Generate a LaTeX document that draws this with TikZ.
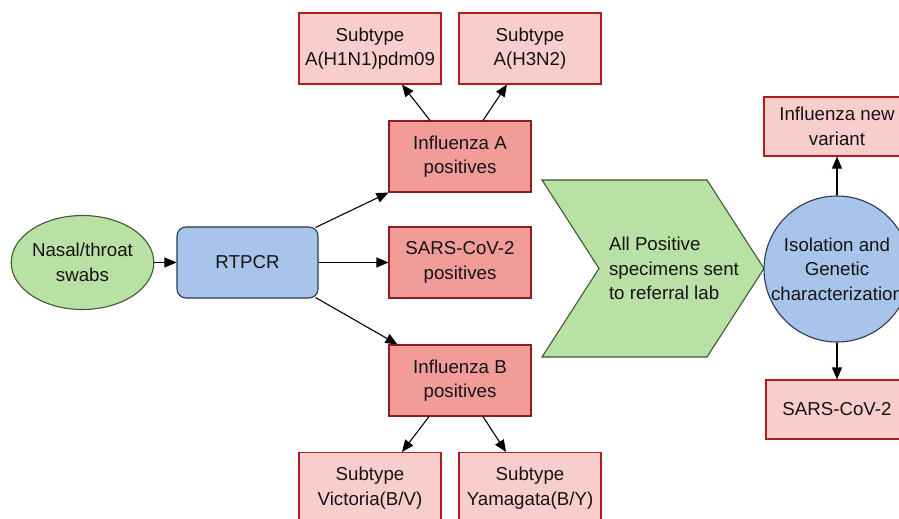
\documentclass[tikz,border=0pt]{standalone}
\usepackage{fontspec}
\setmainfont{Liberation Sans}
\usetikzlibrary{shapes.geometric,arrows.meta}
\definecolor{gfill}{HTML}{B9E0A5}
\definecolor{gline}{HTML}{3E5A30}
\definecolor{bfill}{HTML}{A9C4EB}
\definecolor{bline}{HTML}{2B3A52}
\definecolor{rfill}{HTML}{F19C99}
\definecolor{rline}{HTML}{8E1C1C}
\definecolor{lfill}{HTML}{F8CECC}
\definecolor{lline}{HTML}{B21E1E}
\begin{document}
\begin{tikzpicture}[x=1pt,y=-1pt,
  txt/.style={font=\fontsize{18.7}{24.5}\selectfont,align=center,text=black!92},
  darkbox/.style={txt,draw=rline,fill=rfill,line width=1.1pt,minimum width=142pt,minimum height=71pt,inner sep=0pt},
  lightbox/.style={txt,draw=lline,fill=lfill,line width=1.1pt,minimum width=142pt,minimum height=71pt,inner sep=0pt},
  conn/.style={line width=1.1pt,-{Triangle[length=12pt,width=10pt]}}]
\useasboundingbox (0,0) rectangle (899,519);
\fill[white] (0,0) rectangle (899,519);
\node[txt,ellipse,draw=gline,fill=gfill,line width=1.1pt,minimum width=141pt,minimum height=94pt,inner sep=0pt] (swab) at (82.5,262.5) {Nasal/throat\\swabs};
\node[txt,draw=bline,fill=bfill,line width=1.1pt,rounded corners=9pt,minimum width=141pt,minimum height=71pt,inner sep=0pt] (rtpcr) at (247.5,262.5) {RTPCR};
\node[darkbox] (fa) at (460,156.5) {Influenza A\\positives};
\node[darkbox] (sars) at (460,262.5) {SARS-CoV-2\\positives};
\node[darkbox] (fb) at (460,380.5) {Influenza B\\positives};
\node[lightbox] (h1) at (370,48.5) {Subtype\\A(H1N1)pdm09};
\node[lightbox] (h3) at (530,48.5) {Subtype\\A(H3N2)};
\node[lightbox,anchor=north] (vic) at (370,452) {Subtype\\Victoria(B/V)};
\node[lightbox,anchor=north] (yam) at (530,452) {Subtype\\Yamagata(B/Y)};
\draw[draw=gline,fill=gfill,line width=1.1pt] (542,180) -- (707,180) -- (764,268.5) -- (707,357) -- (542,357) -- (599,268.5) -- cycle;
\node[txt,align=left] (chev) at (674,268.5) {All Positive\\specimens sent\\to referral lab};
\node[txt,circle,draw=bline,fill=bfill,line width=1.1pt,minimum size=146pt,inner sep=0pt] (iso) at (837,269) {Isolation and\\Genetic\\characterization};
\node[lightbox,minimum width=146pt,minimum height=59pt] (nv) at (837,126.5) {Influenza new\\variant};
\node[lightbox,minimum width=142pt,minimum height=59pt] (sc) at (837,409.5) {SARS-CoV-2};
\draw[conn] (swab) -- (rtpcr);
\draw[conn] (rtpcr.north east) ++(-3,1) -- (fa.south west);
\draw[conn] (rtpcr) -- (sars);
\draw[conn] (rtpcr.south east) ++(-3,-1) -- ([xshift=9pt]fb.north west);
\draw[conn] ([xshift=-30pt]fa.north) -- ([xshift=32pt]h1.south);
\draw[conn] ([xshift=23pt]fa.north) -- ([xshift=-23pt]h3.south);
\draw[conn] ([xshift=-31pt]fb.south) -- ([xshift=32pt]vic.north);
\draw[conn] ([xshift=23pt]fb.south) -- ([xshift=-24pt]yam.north);
\draw[conn] (iso) -- (nv);
\draw[conn] (iso) -- (sc);
\end{tikzpicture}
\end{document}
